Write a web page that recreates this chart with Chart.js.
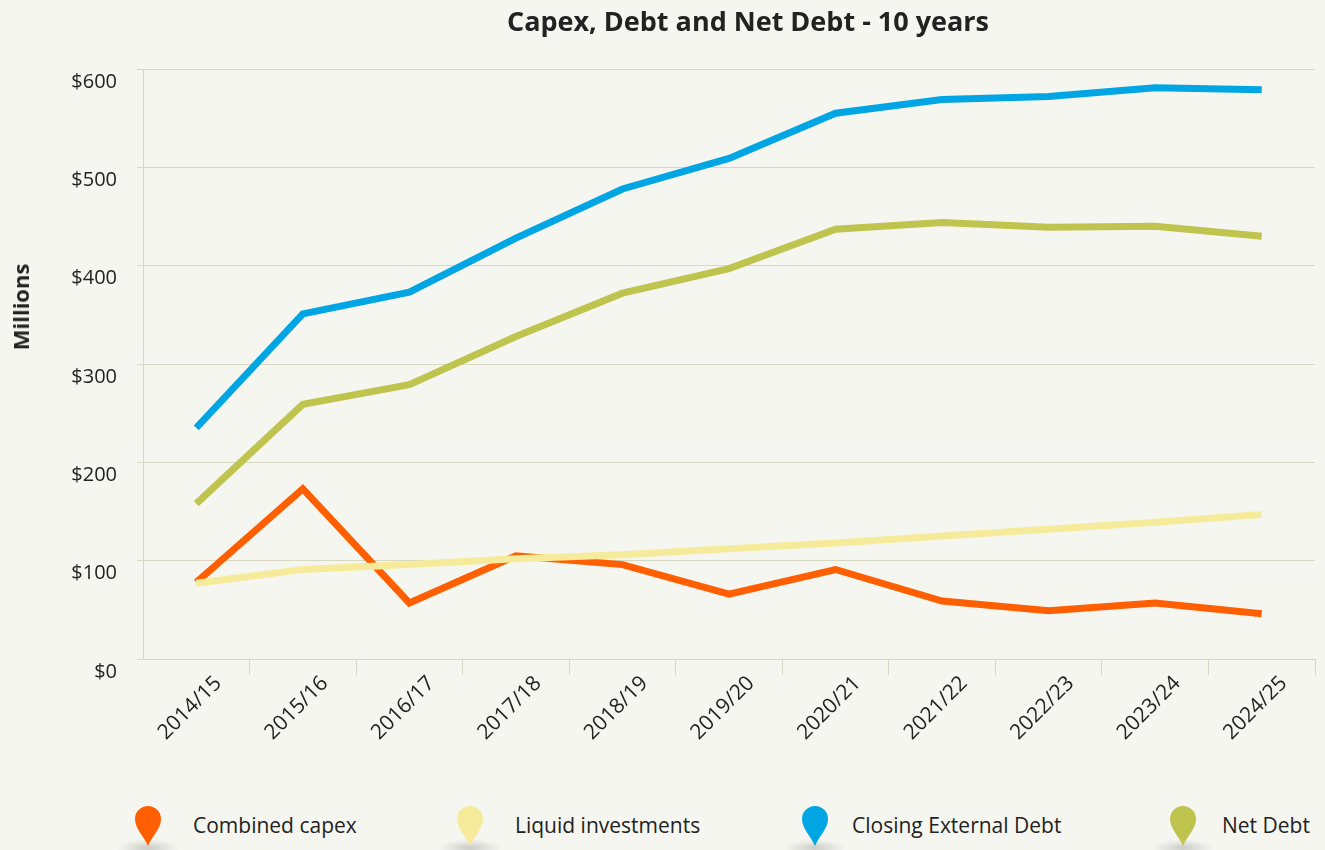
<!DOCTYPE html>
<html>
<head>
    <title>Capex, Debt and Net Debt - 10 years</title>
    <script src="https://cdn.jsdelivr.net/npm/chart.js"></script>
    <style>
        body {
            margin: 0;
            background-color: #f6f6f1;
            font-family: "Open Sans", sans-serif;
            color: #222;
        }
        .wrap {
            position: relative;
            width: 1325px;
            height: 850px;
            overflow: hidden;
        }
        .title {
            position: absolute;
            top: 2px;
            left: 448px;
            width: 600px;
            text-align: center;
            font-size: 27px;
            font-weight: bold;
        }
        .y-title {
            position: absolute;
            left: 20px;
            top: 307px;
            transform: translate(-50%, -50%) rotate(-90deg);
            font-size: 22px;
            font-weight: bold;
            white-space: nowrap;
        }
        .chart-box {
            position: absolute;
            left: 0;
            top: 0;
            width: 1325px;
            height: 760px;
        }
        .legend-item {
            position: absolute;
            top: 805px;
            height: 45px;
        }
        .legend-item svg {
            position: absolute;
            left: -14px;
            top: 0;
        }
        .legend-item .shadow {
            position: absolute;
            left: -32px;
            top: 34px;
            width: 64px;
            height: 18px;
            background: radial-gradient(ellipse at center, rgba(0,0,0,0.18) 0%, rgba(0,0,0,0.06) 45%, rgba(0,0,0,0) 70%);
        }
        .legend-item span {
            position: absolute;
            top: 6px;
            white-space: nowrap;
            font-size: 21px;
        }
    </style>
</head>
<body>
<div class="wrap">
    <div class="chart-box">
        <canvas id="chart1" width="1325" height="760"></canvas>
    </div>
    <div class="title">Capex, Debt and Net Debt - 10 years</div>
    <div class="y-title">Millions</div>
    <div id="legend"></div>
</div>

<script>
    // data ($ millions)
    const years = ['2014/15', '2015/16', '2016/17', '2017/18', '2018/19', '2019/20',
                   '2020/21', '2021/22', '2022/23', '2023/24', '2024/25'];
    const combinedCapex = [78, 173, 57, 105, 96, 66, 91, 59, 49, 57, 46];
    const liquidInvestments = [77, 91, 96, 102, 106, 112, 118, 125, 132, 139, 147];
    const closingExternalDebt = [235, 351, 373, 428, 478, 509, 555, 569, 572, 581, 579];
    const netDebt = [158, 259, 279, 328, 372, 397, 437, 444, 439, 440, 430];
    const yTicks = [0, 100, 200, 300, 400, 500, 600];

    const gridColor = '#d6d8c2';

    const series = [
        { label: 'Combined capex', data: combinedCapex, color: '#ff5f00', order: 3, legendX: 148, textX: 193 },
        { label: 'Liquid investments', data: liquidInvestments, color: '#f5eb9b', order: 2, legendX: 470, textX: 515 },
        { label: 'Closing External Debt', data: closingExternalDebt, color: '#00a6e3', order: 1, legendX: 815, textX: 852 },
        { label: 'Net Debt', data: netDebt, color: '#bec44d', order: 0, legendX: 1183, textX: 1222 }
    ];

    const ctx1 = document.getElementById('chart1').getContext('2d');
    const chart1 = new Chart(ctx1, {
        type: 'line',
        data: {
            labels: years,
            datasets: series.map(s => ({
                label: s.label,
                data: s.data,
                borderColor: s.color,
                backgroundColor: s.color,
                borderWidth: 7,
                borderCapStyle: 'butt',
                borderJoinStyle: 'miter',
                pointRadius: 0,
                tension: 0,
                order: s.order
            }))
        },
        options: {
            responsive: false,
            animation: false,
            layout: { padding: { top: 69, right: 10, left: 0, bottom: 0 } },
            plugins: {
                legend: { display: false },
                tooltip: { enabled: false }
            },
            scales: {
                x: {
                    offset: true,
                    grid: {
                        offset: true,
                        drawOnChartArea: false,
                        tickLength: 16,
                        color: ctx => (ctx.index === 0 ? 'rgba(0,0,0,0)' : gridColor)
                    },
                    border: { color: gridColor, width: 1 },
                    ticks: {
                        color: '#222',
                        font: { family: 'Open Sans', size: 21 },
                        minRotation: 45,
                        maxRotation: 45,
                        padding: -4,
                        labelOffset: 22,
                        autoSkip: false
                    },
                    afterFit: scale => { scale.height = 101; }
                },
                y: {
                    min: 0,
                    max: 600,
                    afterBuildTicks: scale => { scale.ticks = yTicks.map(v => ({ value: v })); },
                    grid: { color: gridColor, tickLength: 6 },
                    border: { color: gridColor, width: 1 },
                    ticks: {
                        color: '#222',
                        font: { family: 'Open Sans', size: 20 },
                        padding: 20,
                        labelOffset: 13,
                        callback: v => '$' + v
                    },
                    afterFit: scale => { scale.width = 143; }
                }
            }
        }
    });

    // HTML legend with map-pin markers
    const legend = document.getElementById('legend');
    series.forEach(s => {
        const item = document.createElement('div');
        item.className = 'legend-item';
        item.style.left = s.legendX + 'px';
        item.innerHTML =
            '<div class="shadow"></div>' +
            '<svg width="28" height="42" viewBox="0 0 28 42">' +
            '<path d="M14 41 C10 31 1 24 1 14 A13 13 0 0 1 27 14 C27 24 18 31 14 41 Z" fill="' + s.color + '"/>' +
            '</svg>' +
            '<span style="left:' + (s.textX - s.legendX) + 'px">' + s.label + '</span>';
        legend.appendChild(item);
    });
</script>
</body>
</html>
